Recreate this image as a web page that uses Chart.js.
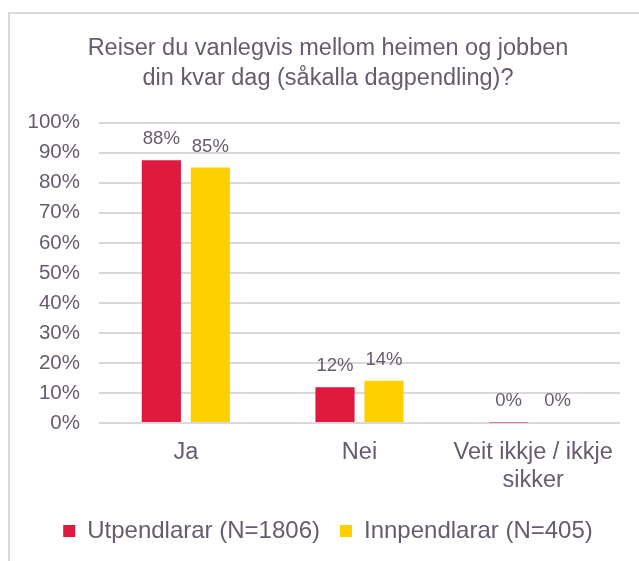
<!DOCTYPE html>
<html>
<head>
<meta charset="utf-8">
<script src="https://cdn.jsdelivr.net/npm/chart.js@4.4.0/dist/chart.umd.min.js"></script>
<style>
  html, body { margin: 0; padding: 0; background: #ffffff; overflow: hidden; }
  #wrap { position: relative; width: 639px; height: 561px; }
  #frame { position: absolute; left: 8px; top: 12px; width: 700px; height: 600px;
           border-left: 2px solid #dcd8dc; border-top: 2px solid #dcd8dc; }
  canvas { position: absolute; left: 0; top: 0; }
</style>
</head>
<body>
<div id="wrap">
  <div id="frame"></div>
  <canvas id="c" width="639" height="561"></canvas>
</div>
<script>
const titleLines = ['Reiser du vanlegvis mellom heimen og jobben', 'din kvar dag (såkalla dagpendling)?'];
const categories = ['Ja', 'Nei', ['Veit ikkje / ikkje', 'sikker']];
const seriesNames = ['Utpendlarar (N=1806)', 'Innpendlarar (N=405)'];
const utpendlarar = [87.5, 11.9, 0.2];
const innpendlarar = [85.1, 14.1, 0.3];
const yTicks = [0, 10, 20, 30, 40, 50, 60, 70, 80, 90, 100];

const TEXT = '#675c6b';
const RED = '#e0193f';
const YELLOW = '#ffd000';
const FONT = "'Liberation Sans', Arial, sans-serif";

const valueLabels = {
  id: 'valueLabels',
  afterDatasetsDraw(chart) {
    const ctx = chart.ctx;
    ctx.save();
    ctx.font = '18.5px ' + FONT;
    ctx.fillStyle = TEXT;
    ctx.textAlign = 'center';
    ctx.textBaseline = 'middle';
    chart.data.datasets.forEach((ds, i) => {
      const meta = chart.getDatasetMeta(i);
      meta.data.forEach((el, j) => {
        ctx.fillText(Math.round(ds.data[j]) + '%', el.x, el.y - 21);
      });
    });
    ctx.restore();
  }
};

new Chart(document.getElementById('c'), {
  type: 'bar',
  data: {
    labels: categories,
    datasets: [
      { label: seriesNames[0], data: utpendlarar, backgroundColor: RED,
        categoryPercentage: 0.564, barPercentage: 0.8 },
      { label: seriesNames[1], data: innpendlarar, backgroundColor: YELLOW,
        categoryPercentage: 0.564, barPercentage: 0.8 }
    ]
  },
  options: {
    responsive: false,
    animation: false,
    layout: { padding: { top: 0, left: 36, right: 19, bottom: 8 } },
    scales: {
      x: {
        grid: { display: false, drawTicks: false },
        border: { display: false },
        ticks: { color: TEXT, font: { family: FONT, size: 23.5 }, padding: 15, maxRotation: 0, autoSkip: false },
        afterFit(scale) { scale.height = 76; }
      },
      y: {
        min: 0, max: 100,
        afterBuildTicks(scale) { scale.ticks = yTicks.map(v => ({ value: v })); },
        grid: { color: '#dcd7dd', lineWidth: 2, drawTicks: false },
        border: { display: false },
        ticks: { color: TEXT, font: { family: FONT, size: 20.5 }, padding: 19,
                 callback: v => v + '%' },
        afterFit(scale) {
          scale.width = 63;
          if (typeof scale._computeLabelArea === 'function') {
            scale._computeLabelArea = function () { return undefined; };
          }
        }
      }
    },
    plugins: {
      title: {
        display: true, text: titleLines, color: TEXT,
        font: { family: FONT, size: 23.5, weight: 'normal', lineHeight: 1.25 },
        padding: { top: 34, bottom: 30 }
      },
      legend: {
        position: 'bottom',
        labels: { color: TEXT, font: { family: FONT, size: 24 }, boxWidth: 12, boxHeight: 12, padding: 20 }
      },
      tooltip: { enabled: false }
    }
  },
  plugins: [valueLabels]
});
</script>
</body>
</html>
